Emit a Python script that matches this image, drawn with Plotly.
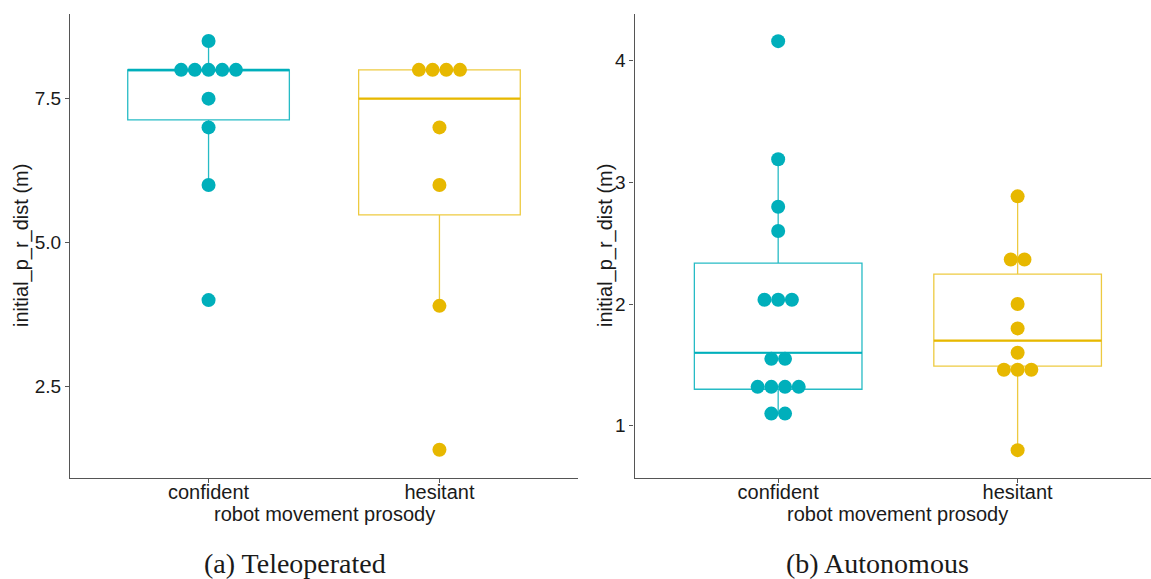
import plotly.graph_objects as go

# ---------------- data ----------------
categories = ["confident", "hesitant"]
colors = ["#00AFBB", "#E7B800"]
box_line_colors = ["rgba(0,175,187,0.85)", "rgba(231,184,0,0.75)"]

# (a) Teleoperated - dot values (binned positions as shown)
tele_confident = [8.5, 8.0, 8.0, 8.0, 8.0, 8.0, 7.5, 7.0, 6.0, 4.0]
tele_hesitant = [8.0, 8.0, 8.0, 8.0, 7.0, 6.0, 3.9, 1.4]
# box statistics: [confident, hesitant]
tele_q1 = [7.13, 5.48]
tele_median = [8.0, 7.5]
tele_q3 = [8.0, 8.0]
tele_lower = [6.0, 3.9]
tele_upper = [8.5, 8.0]

# (b) Autonomous
auto_confident = [4.16, 3.19, 2.8, 2.6, 2.035, 2.035, 2.035, 1.55, 1.55,
                  1.32, 1.32, 1.32, 1.32, 1.1, 1.1]
auto_hesitant = [2.885, 2.366, 2.366, 2.0, 1.8, 1.6, 1.46, 1.46, 1.46, 0.8]
auto_q1 = [1.30, 1.49]
auto_median = [1.60, 1.70]
auto_q3 = [2.337, 2.246]
auto_lower = [1.10, 0.80]
auto_upper = [3.19, 2.885]

y_title = "initial_p_r_dist (m)"
x_title = "robot movement prosody"
captions = ["(a) Teleoperated", "(b) Autonomous"]

# ---------------- layout geometry ----------------
W, H = 1151, 579
BOX_W = 0.7
DOT = 14
xdom1 = [70 / W, 578 / W]
xdom2 = [634.5 / W, 1.0]
ydom = [(H - 478) / H, (H - 14) / H]
xr1 = [-0.6, 1.6]
xr2 = [-0.6, 1.557]
yr1 = [0.91, 8.97]
yr2 = [0.571, 4.383]

fig = go.Figure()


def dot_x(values, center, px_per_unit, step_px=13.7):
    counts = {}
    for v in values:
        counts[v] = counts.get(v, 0) + 1
    seen = {}
    xs = []
    for v in values:
        k = seen.get(v, 0)
        seen[v] = k + 1
        n = counts[v]
        xs.append(center + (k - (n - 1) / 2) * step_px / px_per_unit)
    return xs


def add_panel(xa, ya, groups, q1, med, q3, lo, hi, px_per_unit):
    for i, vals in enumerate(groups):
        fig.add_trace(go.Box(
            x=[i], q1=[q1[i]], median=[med[i]], q3=[q3[i]],
            lowerfence=[lo[i]], upperfence=[hi[i]],
            width=BOX_W, whiskerwidth=0, boxpoints=False,
            fillcolor="rgba(255,255,255,0)",
            line=dict(color=box_line_colors[i], width=1.3),
            xaxis=xa, yaxis=ya, showlegend=False, hoverinfo="skip"))
        # thicker median line
        fig.add_trace(go.Scatter(
            x=[i - BOX_W / 2, i + BOX_W / 2], y=[med[i], med[i]],
            mode="lines", line=dict(color=colors[i], width=2.2),
            xaxis=xa, yaxis=ya, showlegend=False, hoverinfo="skip"))
    for i, vals in enumerate(groups):
        fig.add_trace(go.Scatter(
            x=dot_x(vals, i, px_per_unit), y=vals, mode="markers",
            marker=dict(size=DOT, color=colors[i], line=dict(width=0)),
            xaxis=xa, yaxis=ya, showlegend=False))


px1 = (xdom1[1] - xdom1[0]) * W / (xr1[1] - xr1[0])
px2 = (xdom2[1] - xdom2[0]) * W / (xr2[1] - xr2[0])
add_panel("x", "y", [tele_confident, tele_hesitant], tele_q1, tele_median,
          tele_q3, tele_lower, tele_upper, px1)
add_panel("x2", "y2", [auto_confident, auto_hesitant], auto_q1, auto_median,
          auto_q3, auto_lower, auto_upper, px2)

axis_line = "#555555"
tick_font = dict(family="Liberation Sans, Arial, sans-serif", size=20, color="#1a1a1a")
common_x = dict(showline=True, linecolor=axis_line, linewidth=1.3, ticks="outside",
                ticklen=4, tickcolor=axis_line, showgrid=False, zeroline=False,
                tickvals=[0, 1], ticktext=categories, tickfont=tick_font,
                ticklabelstandoff=-8)
common_y = dict(showline=True, linecolor=axis_line, linewidth=1.3, ticks="outside",
                ticklen=4, tickcolor=axis_line, showgrid=False, zeroline=False,
                tickfont=dict(family="Liberation Sans, Arial, sans-serif", size=19, color="#1a1a1a"))

fig.update_layout(
    width=W, height=H, margin=dict(l=0, r=0, t=0, b=0),
    paper_bgcolor="white", plot_bgcolor="white", showlegend=False,
    xaxis=dict(domain=xdom1, range=xr1, anchor="y", **common_x),
    yaxis=dict(domain=ydom, range=yr1, anchor="x", tickvals=[2.5, 5.0, 7.5],
               tickformat=".1f", **common_y),
    xaxis2=dict(domain=xdom2, range=xr2, anchor="y2", **common_x),
    yaxis2=dict(domain=ydom, range=yr2, anchor="x2", tickvals=[1, 2, 3, 4], **common_y),
)

title_font = dict(family="Liberation Sans, Arial, sans-serif", size=20, color="#1a1a1a")
cap_font = dict(family="Liberation Serif, Times New Roman, serif", size=28, color="#1a1a1a")
ann = [
    dict(text=y_title, x=22 / W, y=(H - 246) / H, textangle=-90, font=title_font),
    dict(text=y_title, x=606 / W, y=(H - 246) / H, textangle=-90, font=title_font),
    dict(text=x_title, x=324 / W, y=(H - 514) / H, font=title_font),
    dict(text=x_title, x=897 / W, y=(H - 514) / H, font=title_font),
    dict(text=captions[0], x=295 / W, y=(H - 563) / H, font=cap_font),
    dict(text=captions[1], x=877.5 / W, y=(H - 563) / H, font=cap_font),
]
for a in ann:
    fig.add_annotation(xref="paper", yref="paper", showarrow=False,
                       xanchor="center", yanchor="middle", **a)

fig.write_html("out.html", config={"displayModeBar": False},
               post_script="document.body.style.margin='0';document.body.style.overflow='hidden';")
